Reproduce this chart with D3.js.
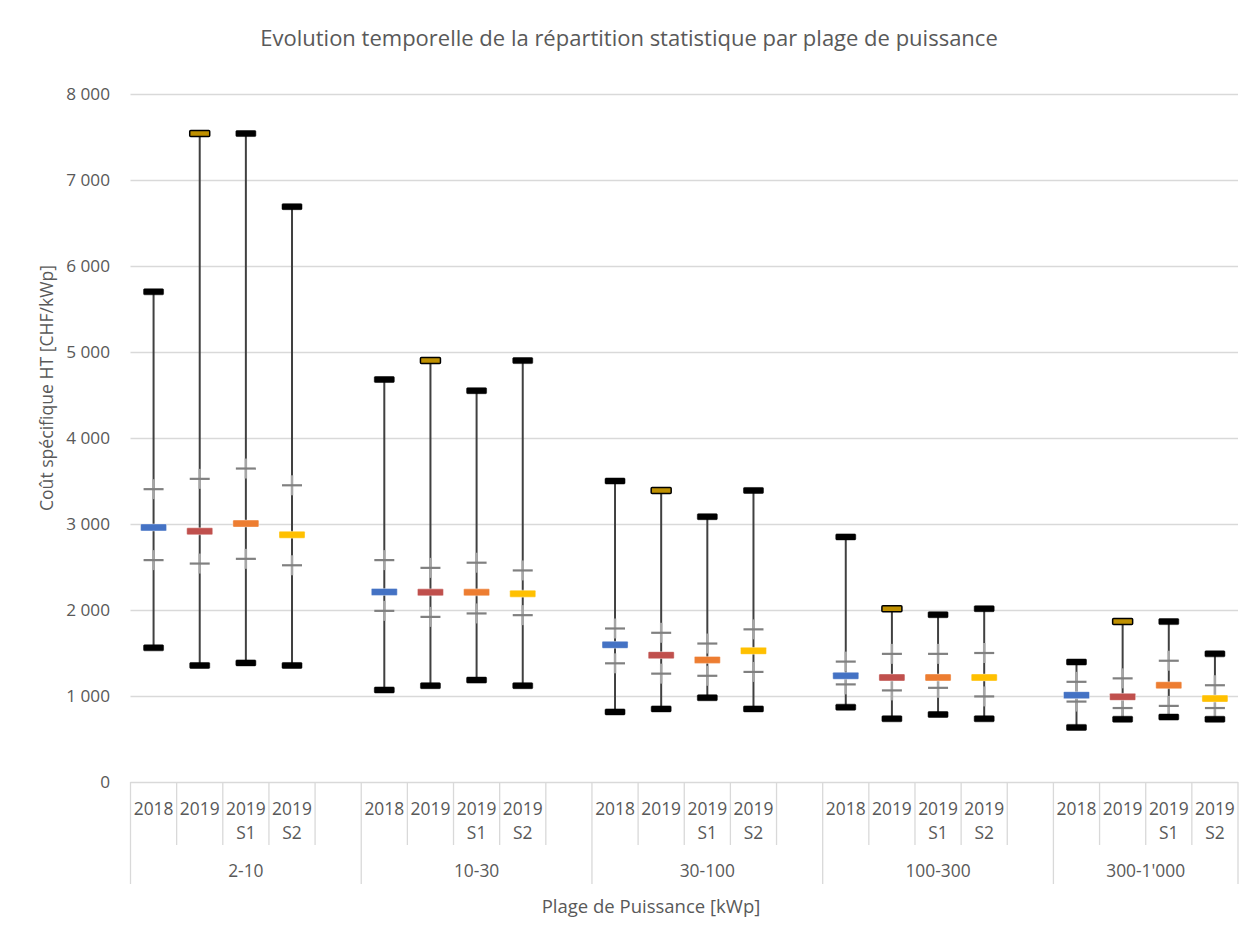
<!DOCTYPE html>
<html><head><meta charset="utf-8">
<script src="https://cdn.jsdelivr.net/npm/d3@7"></script>
<style>
body{margin:0;background:#fff;}
text{font-family:"Open Sans",sans-serif;fill:#595959;}
</style></head>
<body><svg id="c" width="1247" height="926"></svg>
<script>
const groups = ["2-10","10-30","30-100","100-300","300-1'000"];
const seriesNames = ["2018","2019","2019 S1","2019 S2"];
const seriesLabels = [["2018"],["2019"],["2019","S1"],["2019","S2"]];
const seriesColors = ["#4472C4","#C0504D","#ED7D31","#FFC000"];
const maxV = [[5700,7540,7540,6690],[4680,4900,4550,4900],[3500,3390,3085,3390],[2850,2015,1945,2015],[1395,1865,1865,1490]];
const q3V  = [[3405,3525,3645,3450],[2580,2490,2550,2460],[1785,1735,1610,1775],[1400,1490,1490,1500],[1165,1205,1410,1125]];
const medV = [[2960,2915,3005,2875],[2210,2205,2205,2190],[1595,1475,1420,1525],[1235,1215,1215,1215],[1010,990,1125,970]];
const q1V  = [[2580,2540,2595,2520],[1990,1920,1960,1940],[1380,1260,1235,1280],[1135,1065,1095,995],[935,860,885,860]];
const minV = [[1560,1355,1385,1355],[1070,1120,1185,1120],[815,850,980,850],[870,735,785,735],[635,730,755,730]];
const yTicks = [0,1000,2000,3000,4000,5000,6000,7000,8000];

const svg = d3.select("#c");
const L=130.5, R=1238, T=94, B=782;

// slots: each group has 4 series + one blank slot except last
const slots=[];
groups.forEach((g,gi)=>{
  seriesNames.forEach((s,si)=>slots.push({key:gi+"_"+si,gi,si}));
  if(gi<groups.length-1) slots.push({key:gi+"_gap",gi,si:-1});
});
const x = d3.scaleBand().domain(slots.map(d=>d.key)).range([L,R]).padding(0);
const y = d3.scaleLinear().domain([0,8000]).range([B,T]);
const fmt = v => d3.format(",")(v).replace(/,/g," ");

// gridlines
svg.append("g").selectAll("line").data(yTicks).join("line")
  .attr("x1",L).attr("x2",R).attr("y1",d=>Math.round(y(d))+0.5).attr("y2",d=>Math.round(y(d))+0.5)
  .attr("stroke","#d9d9d9").attr("stroke-width",1.3);

// y tick labels
svg.append("g").selectAll("text").data(yTicks).join("text")
  .attr("x",110).attr("y",d=>y(d)).attr("dy","0.36em").attr("text-anchor","end")
  .style("font-size","17.2px").text(fmt);

// category axis separators
const slotSep = [];
slots.forEach((d,i)=>{ if(i>0) slotSep.push({x:x(d.key),group:d.si===0}); });
svg.append("g").selectAll("line").data(slotSep).join("line")
  .attr("x1",d=>d.x).attr("x2",d=>d.x).attr("y1",B).attr("y2",d=>d.group?884:845)
  .attr("stroke","#d9d9d9").attr("stroke-width",1.3);
svg.append("g").selectAll("line").data([L,R]).join("line")
  .attr("x1",d=>d).attr("x2",d=>d).attr("y1",B).attr("y2",884)
  .attr("stroke","#d9d9d9").attr("stroke-width",1.3);

// slot labels
const sl = svg.append("g").selectAll("text").data(slots.filter(d=>d.si>=0)).join("text")
  .attr("text-anchor","middle").style("font-size","17.4px")
  .attr("transform",d=>`translate(${x(d.key)+x.bandwidth()/2},815)`);
sl.selectAll("tspan").data(d=>seriesLabels[d.si]).join("tspan")
  .attr("x",0).attr("dy",(d,i)=>i===0?0:23.5).text(d=>d);

// group labels
svg.append("g").selectAll("text").data(groups).join("text")
  .attr("text-anchor","middle").style("font-size","17.4px")
  .attr("x",(g,gi)=>{const a=x(gi+"_0"); const b=x(gi+"_3")+x.bandwidth(); return gi<groups.length-1?(a+b+x.bandwidth())/2:(a+b)/2;})
  .attr("y",877).text(d=>d);

// titles
svg.append("text").attr("x",629).attr("y",46).attr("text-anchor","middle")
  .style("font-size","22px").text("Evolution temporelle de la répartition statistique par plage de puissance");
svg.append("text").attr("x",651).attr("y",913).attr("text-anchor","middle")
  .style("font-size","18.5px").text("Plage de Puissance [kWp]");
svg.append("text").attr("transform","translate(53,388) rotate(-90)").attr("text-anchor","middle")
  .style("font-size","17.6px").text("Coût spécifique HT [CHF/kWp]");

// boxes data
const boxes=[];
groups.forEach((g,gi)=>seriesNames.forEach((s,si)=>boxes.push({
  key:gi+"_"+si,si,max:maxV[gi][si],q3:q3V[gi][si],med:medV[gi][si],q1:q1V[gi][si],min:minV[gi][si]})));
const cx = d=>x(d.key)+x.bandwidth()/2;

const gB = svg.append("g");
// whiskers
gB.selectAll("line.w").data(boxes).join("line").attr("class","w")
  .attr("x1",cx).attr("x2",cx).attr("y1",d=>y(d.max)).attr("y2",d=>y(d.min))
  .attr("stroke","#404040").attr("stroke-width",2);
// quartile plus markers
const qs=[]; boxes.forEach(d=>{qs.push({d,v:d.q3});qs.push({d,v:d.q1});});
gB.selectAll("line.qv").data(qs).join("line").attr("class","qv")
  .attr("x1",q=>cx(q.d)).attr("x2",q=>cx(q.d)).attr("y1",q=>y(q.v)-10).attr("y2",q=>y(q.v)+10)
  .attr("stroke","#a6a6a6").attr("stroke-width",2.5);
gB.selectAll("line.qh").data(qs).join("line").attr("class","qh")
  .attr("x1",q=>cx(q.d)-10).attr("x2",q=>cx(q.d)+10).attr("y1",q=>y(q.v)).attr("y2",q=>y(q.v))
  .attr("stroke","#808080").attr("stroke-width",2.2);
// min / max markers
const mm=[]; boxes.forEach(d=>{mm.push({d,v:d.max,gold:d.si===1});mm.push({d,v:d.min,gold:false});});
gB.selectAll("rect.mm").data(mm).join("rect").attr("class","mm")
  .attr("x",q=>cx(q.d)-10).attr("y",q=>y(q.v)-3).attr("width",20).attr("height",6).attr("rx",1)
  .attr("fill",q=>q.gold?"#BF9000":"#000").attr("stroke","#000").attr("stroke-width",q=>q.gold?1.5:0.5);
// medians
gB.selectAll("rect.md").data(boxes).join("rect").attr("class","md")
  .attr("x",d=>cx(d)-13).attr("y",d=>y(d.med)-3.5).attr("width",26).attr("height",7).attr("rx",1)
  .attr("fill",d=>seriesColors[d.si]).attr("stroke","#fff").attr("stroke-opacity",0.5).attr("stroke-width",0.8);
</script></body></html>
